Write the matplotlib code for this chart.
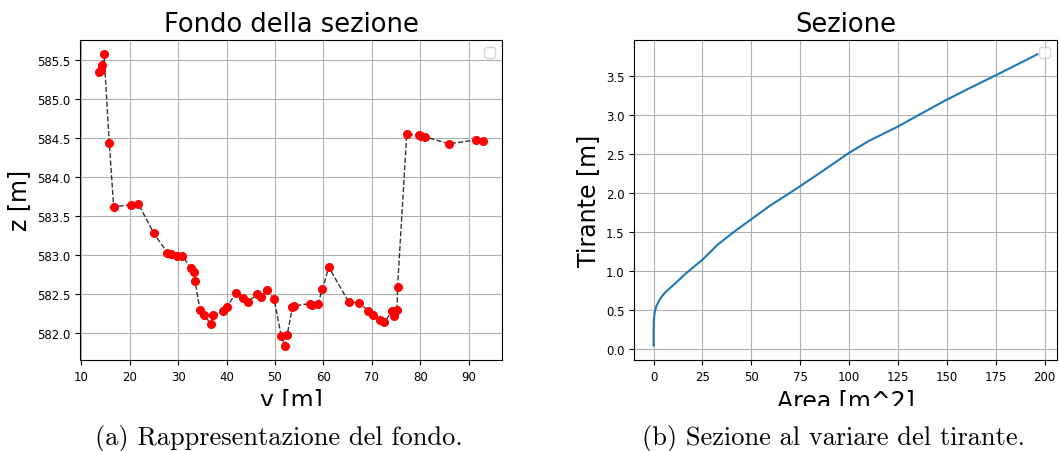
import matplotlib
matplotlib.use("Agg")
import matplotlib.pyplot as plt
from matplotlib.patches import Rectangle

# fondo della sezione: ascissa y [m], quota z [m]
y_fondo = [13.7, 14.0, 14.3, 14.7, 15.8, 16.7, 20.2, 21.8, 25.0, 27.8, 28.5,
           29.7, 30.9, 32.6, 33.3, 33.5, 34.5, 35.4, 36.7, 37.3, 39.3, 40.1,
           41.9, 43.3, 44.4, 46.3, 47.1, 48.4, 49.8, 51.3, 52.0, 52.5, 53.6,
           54.0, 57.2, 57.7, 58.8, 59.8, 61.1, 65.2, 67.4, 69.2, 70.2, 71.7,
           72.6, 74.1, 74.5, 75.2, 75.3, 77.2, 79.7, 80.2, 81.0, 85.9, 91.5,
           92.9]
z_fondo = [585.35, 585.38, 585.44, 585.58, 584.44, 583.62, 583.65, 583.66,
           583.28, 583.03, 583.02, 582.99, 582.99, 582.84, 582.78, 582.67,
           582.30, 582.23, 582.12, 582.23, 582.28, 582.33, 582.52, 582.45,
           582.40, 582.50, 582.47, 582.55, 582.44, 581.96, 581.84, 581.97,
           582.33, 582.35, 582.38, 582.36, 582.37, 582.56, 582.85, 582.40,
           582.39, 582.29, 582.23, 582.17, 582.14, 582.28, 582.22, 582.30,
           582.59, 584.55, 584.54, 584.53, 584.52, 584.43, 584.48, 584.47]

# area bagnata [m^2] in funzione del tirante [m]
area = [0.0, 0.05, 0.2, 0.6, 1.5, 3.1, 5.5, 8.5, 12.0, 16.7, 24.9, 33.0,
        42.2, 49.9, 59.2, 74.6, 87.0, 99.7, 110.3, 124.8, 137.0, 149.4,
        162.0, 175.0, 196.3]
tirante = [0.04, 0.25, 0.38, 0.47, 0.55, 0.63, 0.71, 0.78, 0.86, 0.97, 1.14,
           1.34, 1.52, 1.66, 1.83, 2.08, 2.29, 2.51, 2.67, 2.85, 3.02, 3.19,
           3.35, 3.51, 3.78]

fig = plt.figure(figsize=(10.59, 4.52), dpi=100)

ax1 = fig.add_axes([0.0755, 0.201, 0.3985, 0.709])
ax1.plot(y_fondo, z_fondo, 'k--', lw=1, alpha=0.8)
ax1.plot(y_fondo, z_fondo, 'o', color='red', ms=5.5)
ax1.set_title("Fondo della sezione", fontsize=18.5)
ax1.set_xlabel("y [m]", fontsize=17)
ax1.set_ylabel("z [m]", fontsize=17)
ax1.tick_params(labelsize=8.5)
ax1.grid(True)
ax1.legend()

ax2 = fig.add_axes([0.599, 0.201, 0.3988, 0.709])
ax2.plot(area, tirante)
ax2.set_title("Sezione", fontsize=18.5)
ax2.set_xlabel("Area [m^2]", fontsize=17)
ax2.set_ylabel("Tirante [m]", fontsize=17)
ax2.tick_params(labelsize=8.5)
ax2.grid(True)
ax2.legend()

# le etichette risultano tagliate in basso come nel documento
fig.add_artist(Rectangle((0, 0), 1, 1 - 407 / 452, transform=fig.transFigure,
                         facecolor='white', edgecolor='none', zorder=10))

fig.text(279 / 1059, 1 - 445 / 452, "(a) Rappresentazione del fondo.",
         ha='center', va='baseline', fontsize=19, family='cmr10', zorder=11)
fig.text(833 / 1059, 1 - 445 / 452, "(b) Sezione al variare del tirante.",
         ha='center', va='baseline', fontsize=19, family='cmr10', zorder=11)

fig.savefig("out.png", dpi=100)
